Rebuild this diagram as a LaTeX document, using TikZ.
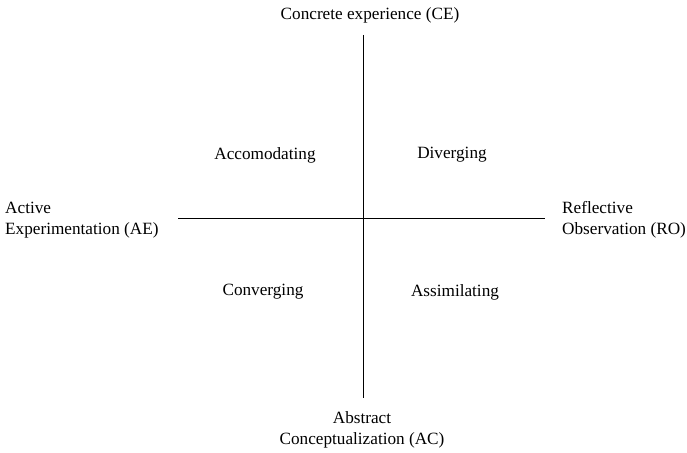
\documentclass[tikz,border=0pt]{standalone}
\usepackage{fontspec}
\setmainfont{Liberation Serif}
\begin{document}
\begin{tikzpicture}[x=1pt,y=-1pt,font=\fontsize{17.2}{20.5}\selectfont,
    axe/.style={line width=1pt},
    pole/.style={align=center,inner sep=0pt},
    style/.style={inner sep=0pt}]
    \useasboundingbox (0,0) rectangle (687,452);
    % les deux axes
    \coordinate (haut) at (363,35);
    \coordinate (bas) at (363,398);
    \coordinate (gauche) at (178,218);
    \coordinate (droite) at (545,218);
    \draw [axe] (haut) -- (bas);
    \draw [axe] (gauche) -- (droite);
    % les quatre poles
    \node [pole] (CE) at (370,15) {Concrete experience (CE)};
    \node [pole,align=left,anchor=west] (AE) at (5,220) {Active\\Experimentation (AE)};
    \node [pole,align=left,anchor=west] (RO) at (562,220) {Reflective\\Observation (RO)};
    \node [pole] (AC) at (362,430) {Abstract\\Conceptualization (AC)};
    % les styles d'apprentissage
    \node [style] (acc) at (265,155) {Accomodating};
    \node [style] (div) at (452,155) {Diverging};
    \node [style] (conv) at (263,292) {Converging};
    \node [style] (ass) at (455,292) {Assimilating};
\end{tikzpicture}
\end{document}
